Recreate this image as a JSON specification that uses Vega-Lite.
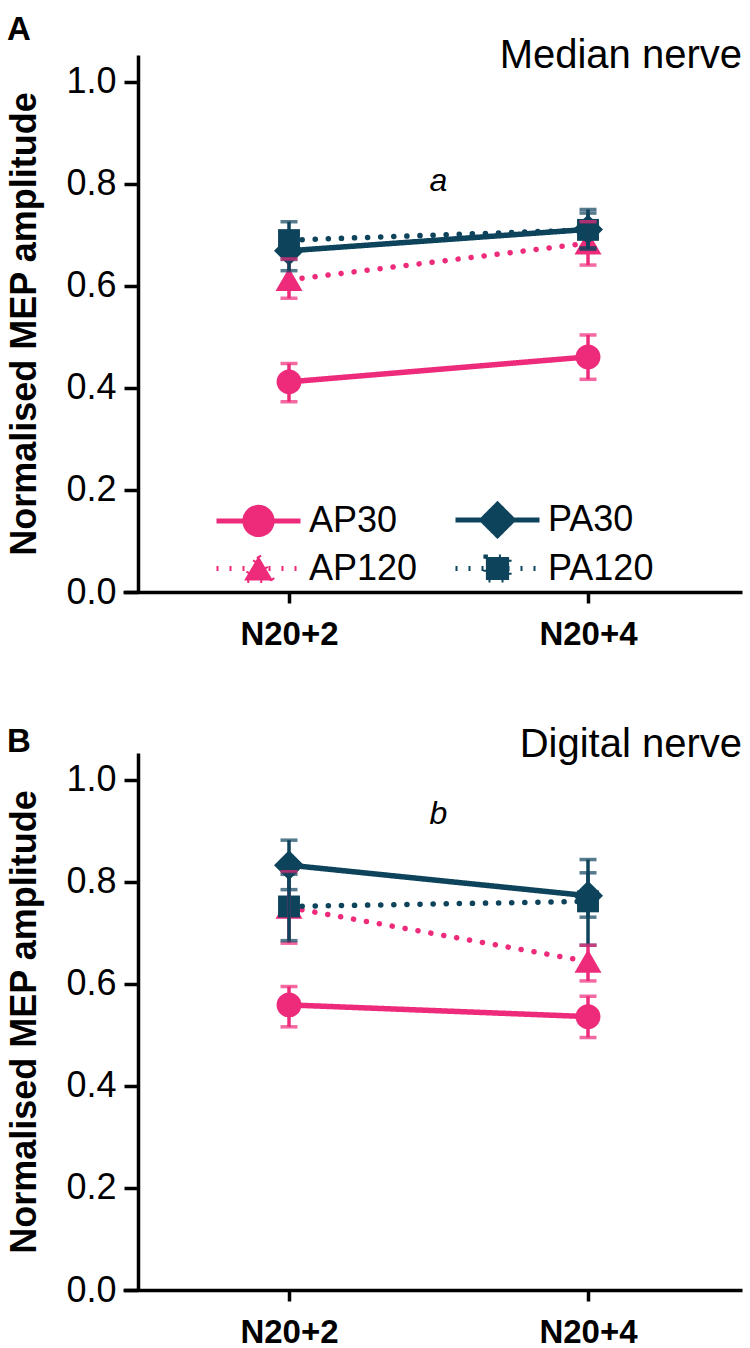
{
  "$schema": "https://vega.github.io/schema/vega-lite/v6.json",
  "background": "white",
  "padding": {"left": 6, "top": 14, "right": 5, "bottom": 0},
  "config": {
    "font": "Liberation Sans",
    "view": {"stroke": null},
    "axis": {"labelFont": "Liberation Sans", "titleFont": "Liberation Sans", "domainColor": "#000000", "tickColor": "#000000", "labelColor": "#000000", "titleColor": "#000000", "domainWidth": 3.5, "tickWidth": 3.5, "grid": false},
    "axisY": {"tickSize": 14, "labelFontSize": 36, "labelPadding": 8, "titleFontSize": 36, "titleFontWeight": "bold", "titlePadding": 22},
    "axisX": {"tickSize": 11, "labelFontSize": 33, "labelFontWeight": "bold", "labelPadding": 15},
    "title": {"font": "Liberation Sans", "color": "#000000"}
  },
  "datasets": {
    "pts": [
      {"panel": "A", "series": "AP30", "t": 1, "mean": 0.412, "lo": 0.373, "hi": 0.448},
      {"panel": "A", "series": "AP30", "t": 2, "mean": 0.461, "lo": 0.417, "hi": 0.504},
      {"panel": "A", "series": "AP120", "t": 1, "mean": 0.612, "lo": 0.576, "hi": 0.653},
      {"panel": "A", "series": "AP120", "t": 2, "mean": 0.684, "lo": 0.641, "hi": 0.726},
      {"panel": "A", "series": "PA30", "t": 1, "mean": 0.669, "lo": 0.630, "hi": 0.704},
      {"panel": "A", "series": "PA30", "t": 2, "mean": 0.711, "lo": 0.675, "hi": 0.750},
      {"panel": "A", "series": "PA120", "t": 1, "mean": 0.690, "lo": 0.652, "hi": 0.726},
      {"panel": "A", "series": "PA120", "t": 2, "mean": 0.710, "lo": 0.672, "hi": 0.743},
      {"panel": "B", "series": "AP30", "t": 1, "mean": 0.559, "lo": 0.516, "hi": 0.595},
      {"panel": "B", "series": "AP30", "t": 2, "mean": 0.536, "lo": 0.495, "hi": 0.576},
      {"panel": "B", "series": "AP120", "t": 1, "mean": 0.750, "lo": 0.680, "hi": 0.820},
      {"panel": "B", "series": "AP120", "t": 2, "mean": 0.644, "lo": 0.606, "hi": 0.676},
      {"panel": "B", "series": "PA120", "t": 1, "mean": 0.752, "lo": 0.685, "hi": 0.815},
      {"panel": "B", "series": "PA120", "t": 2, "mean": 0.762, "lo": 0.731, "hi": 0.818},
      {"panel": "B", "series": "PA30", "t": 1, "mean": 0.833, "lo": 0.785, "hi": 0.882},
      {"panel": "B", "series": "PA30", "t": 2, "mean": 0.773, "lo": 0.676, "hi": 0.844}
    ],
    "notes": [
      {"panel": "A", "t": 1.5, "y": 0.806, "label": "a"},
      {"panel": "B", "t": 1.5, "y": 0.933, "label": "b"}
    ]
  },
  "spacing": 74,
  "resolve": {
    "scale": {"color": "independent", "fill": "independent", "stroke": "independent", "shape": "independent", "strokeDash": "independent", "x": "independent", "y": "independent"},
    "legend": {"color": "independent", "fill": "independent", "stroke": "independent", "shape": "independent", "strokeDash": "independent"}
  },
  "vconcat": [
    {
      "title": {"text": "A", "anchor": "start", "frame": "bounds", "fontSize": 33, "fontWeight": "bold", "offset": -11},
      "resolve": {
        "scale": {"color": "independent", "fill": "independent", "stroke": "independent", "shape": "independent", "strokeDash": "independent", "x": "independent", "y": "independent"},
        "legend": {"color": "independent", "fill": "independent", "stroke": "independent", "shape": "independent", "strokeDash": "independent"}
      },
      "vconcat": [
        {
          "title": {"text": "Median nerve", "anchor": "end", "frame": "group", "fontSize": 40, "fontWeight": "normal", "offset": -21},
          "width": 619,
          "height": 537,
          "data": {"name": "pts"},
          "transform": [{"filter": "datum.panel === 'A'"}],
          "encoding": {
            "x": {"field": "t", "type": "quantitative", "scale": {"domain": [0.4448, 2.515], "nice": false, "zero": false}, "axis": {"values": [1, 2], "labelExpr": "datum.value == 1 ? 'N20+2' : 'N20+4'", "title": null}},
            "y": {"field": "mean", "type": "quantitative", "scale": {"domain": [0, 1.0529], "nice": false, "zero": false}, "axis": {"values": [0, 0.2, 0.4, 0.6, 0.8, 1.0], "format": ".1f", "title": "Normalised MEP amplitude", "offset": -15}}
          },
          "resolve": {
            "scale": {"color": "independent", "fill": "independent", "stroke": "independent", "shape": "independent", "strokeDash": "independent"},
            "legend": {"color": "independent", "fill": "independent", "stroke": "independent", "shape": "independent", "strokeDash": "independent"}
          },
          "layer": [
            {
              "mark": {"type": "line", "strokeWidth": 5.5, "strokeCap": "round"},
              "encoding": {
                "color": {"field": "series", "type": "nominal", "legend": null, "scale": {"domain": ["AP30", "AP120", "PA30", "PA120"], "range": ["#EE2A7B", "#EE2A7B", "#0E435C", "#0E435C"]}},
                "strokeDash": {"field": "series", "type": "nominal", "legend": null, "scale": {"domain": ["AP30", "AP120", "PA30", "PA120"], "range": [[1, 0], [0.1, 13], [1, 0], [0.1, 13]]}}
              }
            },
            {
              "mark": {"type": "point", "filled": true, "opacity": 1, "size": 900},
              "encoding": {
                "color": {"field": "series", "type": "nominal", "legend": null, "scale": {"domain": ["AP30", "AP120", "PA30", "PA120"], "range": ["#EE2A7B", "#EE2A7B", "#0E435C", "#0E435C"]}},
                "shape": {"field": "series", "type": "nominal", "legend": null, "scale": {"domain": ["AP30", "AP120", "PA30", "PA120"], "range": ["M0.83,0A0.83,0.83 0 1,1 -0.83,0A0.83,0.83 0 1,1 0.83,0Z", "M0,-0.8L0.9,0.75L-0.9,0.75Z", "M0,-1L1,0L0,1L-1,0Z", "M-0.73,-0.73L0.73,-0.73L0.73,0.73L-0.73,0.73Z"]}}
              }
            },
            {
              "mark": {"type": "rule", "strokeWidth": 3.5},
              "encoding": {
                "y": {"field": "lo", "type": "quantitative"},
                "y2": {"field": "hi"},
                "color": {"field": "series", "type": "nominal", "legend": null, "scale": {"domain": ["AP30", "AP120", "PA30", "PA120"], "range": ["#EE2A7B", "#EE2A7B", "#0E435C", "#0E435C"]}}
              }
            },
            {
              "mark": {"type": "tick", "orient": "horizontal", "size": 17, "thickness": 3.5},
              "encoding": {
                "y": {"field": "lo", "type": "quantitative"},
                "color": {"field": "series", "type": "nominal", "legend": null, "scale": {"domain": ["AP30", "AP120", "PA30", "PA120"], "range": ["#EE2A7B", "#EE2A7B", "#0E435C", "#0E435C"]}}
              }
            },
            {
              "mark": {"type": "tick", "orient": "horizontal", "size": 17, "thickness": 3.5},
              "encoding": {
                "y": {"field": "hi", "type": "quantitative"},
                "color": {"field": "series", "type": "nominal", "legend": null, "scale": {"domain": ["AP30", "AP120", "PA30", "PA120"], "range": ["#EE2A7B", "#EE2A7B", "#0E435C", "#0E435C"]}}
              }
            },
            {
              "transform": [{"filter": "false"}],
              "mark": {"type": "point", "filled": true, "opacity": 1, "fillOpacity": 1, "strokeOpacity": 1, "size": 900, "strokeCap": "round", "strokeWidth": 5},
              "encoding": {
                "fill": {"field": "series", "type": "nominal", "scale": {"domain": ["AP30", "AP120", "PA30", "PA120"], "range": ["#EE2A7B", "#EE2A7B", "#0E435C", "#0E435C"]},
                  "legend": {
                    "orient": "none", "legendX": 113, "legendY": 442, "columns": 2, "title": null, "padding": 0,
                    "labelFont": "Liberation Sans", "labelFontSize": 36, "labelColor": "#000000", "labelOffset": 28,
                    "columnPadding": 27, "rowPadding": 0, "symbolSize": 1600, "symbolStrokeWidth": 5, "symbolOpacity": 1
                  }
                },
                "stroke": {"field": "series", "type": "nominal", "scale": {"domain": ["AP30", "AP120", "PA30", "PA120"], "range": ["#EE2A7B", "#EE2A7B", "#0E435C", "#0E435C"]}},
                "strokeDash": {"field": "series", "type": "nominal", "scale": {"domain": ["AP30", "AP120", "PA30", "PA120"], "range": [[1, 0], [2, 11], [1, 0], [2, 11]]}},
                "shape": {"field": "series", "type": "nominal", "scale": {"domain": ["AP30", "AP120", "PA30", "PA120"], "range": ["M-2.1,0L2.1,0M0.68,0A0.68,0.68 0 1,1 -0.68,0A0.68,0.68 0 1,1 0.68,0Z", "M-2.1,0L2.1,0M0,-0.62L0.72,0.6L-0.72,0.6Z", "M-2.1,0L2.1,0M0,-0.78L0.78,0L0,0.78L-0.78,0Z", "M-2.1,0L2.1,0M-0.58,-0.58L0.58,-0.58L0.58,0.58L-0.58,0.58Z"]}}
              }
            },
            {
              "data": {"name": "notes"},
              "transform": [{"filter": "datum.panel === 'A'"}],
              "mark": {"type": "text", "fontSize": 32, "fontStyle": "italic", "align": "center", "baseline": "middle", "color": "#000000"},
              "encoding": {
                "y": {"field": "y", "type": "quantitative"},
                "text": {"field": "label"}
              }
            }
          ]
        }
      ]
    },
    {
      "title": {"text": "B", "anchor": "start", "frame": "bounds", "fontSize": 33, "fontWeight": "bold", "offset": -34},
      "resolve": {
        "scale": {"color": "independent", "shape": "independent", "strokeDash": "independent", "x": "independent", "y": "independent"},
        "legend": {"color": "independent", "shape": "independent", "strokeDash": "independent"}
      },
      "vconcat": [
        {
          "title": {"text": "Digital nerve", "anchor": "end", "frame": "group", "fontSize": 40, "fontWeight": "normal", "offset": -12},
          "width": 619,
          "height": 537,
          "data": {"name": "pts"},
          "transform": [{"filter": "datum.panel === 'B'"}],
          "encoding": {
            "x": {"field": "t", "type": "quantitative", "scale": {"domain": [0.4448, 2.515], "nice": false, "zero": false}, "axis": {"values": [1, 2], "labelExpr": "datum.value == 1 ? 'N20+2' : 'N20+4'", "title": null}},
            "y": {"field": "mean", "type": "quantitative", "scale": {"domain": [0, 1.0529], "nice": false, "zero": false}, "axis": {"values": [0, 0.2, 0.4, 0.6, 0.8, 1.0], "format": ".1f", "title": "Normalised MEP amplitude", "offset": -15}}
          },
          "layer": [
            {
              "mark": {"type": "line", "strokeWidth": 5.5, "strokeCap": "round"},
              "encoding": {
                "color": {"field": "series", "type": "nominal", "legend": null, "scale": {"domain": ["AP30", "AP120", "PA30", "PA120"], "range": ["#EE2A7B", "#EE2A7B", "#0E435C", "#0E435C"]}},
                "strokeDash": {"field": "series", "type": "nominal", "legend": null, "scale": {"domain": ["AP30", "AP120", "PA30", "PA120"], "range": [[1, 0], [0.1, 13], [1, 0], [0.1, 13]]}}
              }
            },
            {
              "mark": {"type": "point", "filled": true, "opacity": 1, "size": 900},
              "encoding": {
                "color": {"field": "series", "type": "nominal", "legend": null, "scale": {"domain": ["AP30", "AP120", "PA30", "PA120"], "range": ["#EE2A7B", "#EE2A7B", "#0E435C", "#0E435C"]}},
                "shape": {"field": "series", "type": "nominal", "legend": null, "scale": {"domain": ["AP30", "AP120", "PA30", "PA120"], "range": ["M0.83,0A0.83,0.83 0 1,1 -0.83,0A0.83,0.83 0 1,1 0.83,0Z", "M0,-0.8L0.9,0.75L-0.9,0.75Z", "M0,-1L1,0L0,1L-1,0Z", "M-0.73,-0.73L0.73,-0.73L0.73,0.73L-0.73,0.73Z"]}}
              }
            },
            {
              "mark": {"type": "rule", "strokeWidth": 3.5},
              "encoding": {
                "y": {"field": "lo", "type": "quantitative"},
                "y2": {"field": "hi"},
                "color": {"field": "series", "type": "nominal", "legend": null}
              }
            },
            {
              "mark": {"type": "tick", "orient": "horizontal", "size": 17, "thickness": 3.5},
              "encoding": {
                "y": {"field": "lo", "type": "quantitative"},
                "color": {"field": "series", "type": "nominal", "legend": null}
              }
            },
            {
              "mark": {"type": "tick", "orient": "horizontal", "size": 17, "thickness": 3.5},
              "encoding": {
                "y": {"field": "hi", "type": "quantitative"},
                "color": {"field": "series", "type": "nominal", "legend": null}
              }
            },
            {
              "data": {"name": "notes"},
              "transform": [{"filter": "datum.panel === 'B'"}],
              "mark": {"type": "text", "fontSize": 32, "fontStyle": "italic", "align": "center", "baseline": "middle", "color": "#000000"},
              "encoding": {
                "y": {"field": "y", "type": "quantitative"},
                "text": {"field": "label"}
              }
            }
          ]
        }
      ]
    }
  ]
}
